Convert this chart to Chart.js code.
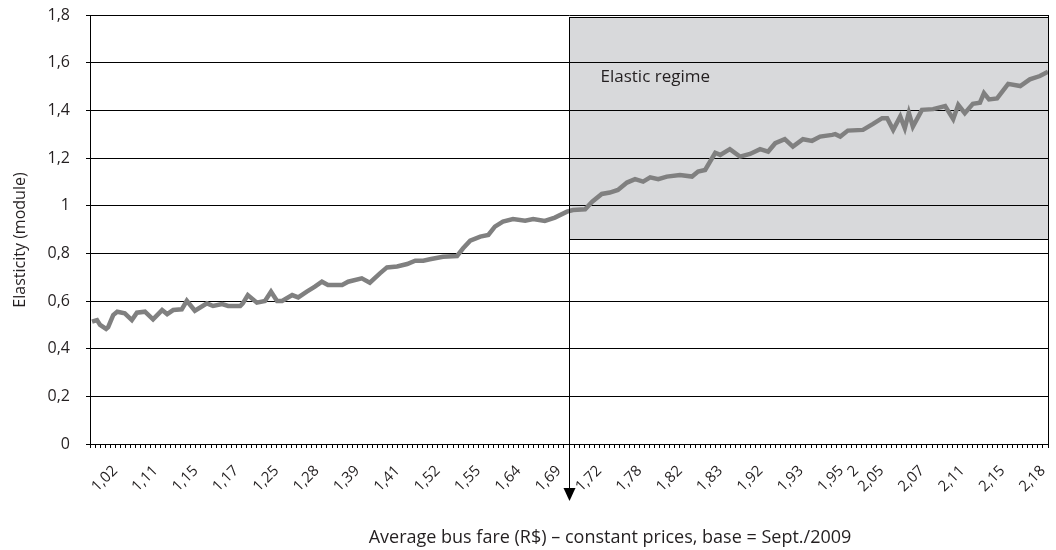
<!DOCTYPE html>
<html><head><meta charset="utf-8">
<script src="https://cdn.jsdelivr.net/npm/chart.js@4.4.1/dist/chart.umd.min.js"></script>
<style>html,body{margin:0;padding:0;background:#fff}#wrap{width:1056px;height:550px;position:relative}</style>
</head><body><div id="wrap"><canvas id="c"></canvas></div>
<script>
// Position of each observation along the fare axis (category units, 190 categories)
const periodIndex = [0.4,1.4,2.0,3.2,3.6,4.6,5.4,6.9,8.3,9.3,10.9,12.5,14.3,15.3,16.5,18.2,19.2,20.8,23.2,24.4,26.2,27.4,29.8,30.3,31.3,33.1,34.7,35.9,37.1,38.1,40.1,41.3,43.0,44.6,46.0,47.2,50.0,51.2,53.9,55.5,57.5,58.9,60.9,62.9,64.5,66.1,67.4,70.0,72.8,74.0,75.4,77.4,79.0,80.3,81.9,83.9,86.3,87.9,90.2,92.2,94.6,95.8,98.2,99.6,101.5,103.1,104.7,106.5,108.1,109.7,111.1,112.7,114.4,117.0,119.4,120.6,122.0,124.0,125.0,126.9,128.9,130.9,132.9,134.5,135.9,137.8,139.4,141.4,143.2,144.8,147.2,147.8,148.8,150.3,153.3,155.3,157.1,158.1,159.3,160.7,161.6,162.4,163.2,165.0,167.2,169.6,171.2,172.2,173.5,175.1,176.5,177.3,178.3,179.9,182.1,184.5,186.4,188.4,190.0];
const elasticity = [0.513,0.52,0.50,0.483,0.49,0.541,0.555,0.548,0.52,0.551,0.555,0.523,0.562,0.545,0.562,0.565,0.601,0.559,0.590,0.579,0.587,0.579,0.579,0.59,0.625,0.593,0.60,0.639,0.60,0.60,0.625,0.615,0.639,0.66,0.681,0.667,0.667,0.681,0.695,0.677,0.716,0.741,0.745,0.755,0.769,0.769,0.775,0.786,0.789,0.821,0.853,0.87,0.877,0.912,0.933,0.944,0.937,0.944,0.936,0.95,0.975,0.982,0.985,1.017,1.049,1.055,1.066,1.097,1.111,1.101,1.119,1.111,1.122,1.129,1.122,1.143,1.15,1.222,1.213,1.237,1.206,1.217,1.237,1.227,1.262,1.279,1.248,1.279,1.272,1.29,1.297,1.30,1.29,1.315,1.318,1.343,1.367,1.367,1.318,1.374,1.325,1.39,1.332,1.402,1.405,1.418,1.363,1.423,1.388,1.427,1.432,1.472,1.446,1.45,1.511,1.502,1.53,1.544,1.562];
const categoryCount = 190;
const fareLabels = ['1,02','1,11','1,15','1,17','1,25','1,28','1,39','1,41','1,52','1,55','1,64','1,69','1,72','1,78','1,82','1,83','1,92','1,93','1,95','2','2,05','2,07','2,11','2,15','2,18'];
const fareLabelIndex = [5,13,21,29,37,45,53,61,69,77,85,93,101,109,117,125,133,141,149,152,157,165,173,181,189];
const yTickLabels = ['0','0,2','0,4','0,6','0,8','1','1,2','1,4','1,6','1,8'];
const regimeStart = 95;
const regimeBottom = 0.86;
const regimeTop = 1.79;
const regimeLabel = 'Elastic regime';
const yTitle = 'Elasticity (module)';
const xTitle = 'Average bus fare (R$) \u2013 constant prices, base = Sept./2009';

const FONT = "'Open Sans', sans-serif";
const TXT = '#231f20';
const labelMap = {};
fareLabelIndex.forEach((v, i) => { labelMap[v] = fareLabels[i]; });

const regimePlugin = {
  id: 'regime',
  beforeDraw(chart) {
    const {ctx, scales: {x, y}, chartArea} = chart;
    const x0 = Math.round(x.getPixelForValue(regimeStart)) + 0.5;
    const x1 = Math.round(chartArea.right) + 0.5;
    const y0 = Math.round(y.getPixelForValue(regimeTop)) + 0.5;
    const y1 = Math.round(y.getPixelForValue(regimeBottom)) + 0.5;
    ctx.save();
    ctx.fillStyle = '#d8d9db';
    ctx.fillRect(x0, y0, x1 - x0, y1 - y0);
    ctx.strokeStyle = '#000';
    ctx.lineWidth = 1;
    ctx.strokeRect(x0, y0, x1 - x0, y1 - y0);
    ctx.restore();
  },
  afterDraw(chart) {
    const {ctx, scales: {x, y}, chartArea} = chart;
    const x0 = Math.round(x.getPixelForValue(regimeStart)) + 0.5;
    const y0 = Math.round(y.getPixelForValue(regimeTop)) + 0.5;
    const tip = chartArea.bottom + 57;
    ctx.save();
    ctx.strokeStyle = '#000';
    ctx.lineWidth = 1;
    ctx.beginPath();
    ctx.moveTo(x0, y0);
    ctx.lineTo(x0, tip - 10);
    ctx.stroke();
    ctx.fillStyle = '#000';
    ctx.beginPath();
    ctx.moveTo(x0 - 6, tip - 13);
    ctx.lineTo(x0 + 6, tip - 13);
    ctx.lineTo(x0, tip);
    ctx.closePath();
    ctx.fill();
    // right frame
    const xr = Math.round(chartArea.right) + 0.5;
    ctx.beginPath();
    ctx.moveTo(xr, chartArea.top);
    ctx.lineTo(xr, chartArea.bottom);
    ctx.stroke();
    // texts
    ctx.fillStyle = TXT;
    ctx.font = "17px " + FONT;
    ctx.textAlign = 'left';
    ctx.textBaseline = 'middle';
    ctx.fillText(regimeLabel, x0 + 31, y.getPixelForValue(1.6) + 14);
    ctx.font = "18px " + FONT;
    ctx.textAlign = 'center';
    ctx.fillText(xTitle, chartArea.left + 520, chartArea.bottom + 94);
    ctx.translate(20, chartArea.top + 225);
    ctx.rotate(-Math.PI / 2);
    ctx.font = "16px " + FONT;
    ctx.fillText(yTitle, 0, 0);
    ctx.restore();
  }
};

new Chart(document.getElementById('c'), {
  type: 'line',
  data: {
    datasets: [{
      data: periodIndex.map((p, i) => ({x: p, y: elasticity[i]})),
      borderColor: '#808080',
      borderWidth: 4.5,
      pointRadius: 0,
      tension: 0,
      fill: false
    }]
  },
  options: {
    responsive: true,
    maintainAspectRatio: false,
    animation: false,
    events: [],
    layout: {padding: {top: 15, right: 8, left: 0, bottom: 0}},
    plugins: {legend: {display: false}, tooltip: {enabled: false}},
    scales: {
      x: {
        type: 'linear',
        min: 0,
        max: categoryCount,
        afterBuildTicks(scale) {
          const t = [];
          for (let i = 0; i <= categoryCount; i++) t.push({value: i});
          scale.ticks = t;
        },
        afterFit(scale) { scale.height = 106; scale.paddingLeft = 0; scale.paddingRight = 0; },
        grid: {display: true, drawOnChartArea: false, drawTicks: true, tickLength: 4, color: '#000', lineWidth: 1},
        border: {display: true, color: '#000', width: 1},
        ticks: {
          autoSkip: false,
          minRotation: 45,
          maxRotation: 45,
          padding: 14,
          color: TXT,
          font: {family: FONT, size: 15},
          callback: (v) => labelMap[v] !== undefined ? labelMap[v] : ''
        },
        title: {display: false}
      },
      y: {
        min: 0,
        max: 1.8,
        afterFit(scale) { scale.width = 90; scale.paddingTop = 0; scale.paddingBottom = 0; },
        ticks: {
          stepSize: 0.2,
          padding: 16,
          color: TXT,
          font: {family: FONT, size: 16},
          callback: (v, i) => yTickLabels[i]
        },
        grid: {color: '#000', lineWidth: 1, tickLength: 4},
        border: {display: true, color: '#000', width: 1},
        title: {display: false}
      }
    }
  },
  plugins: [regimePlugin]
});
</script></body></html>
